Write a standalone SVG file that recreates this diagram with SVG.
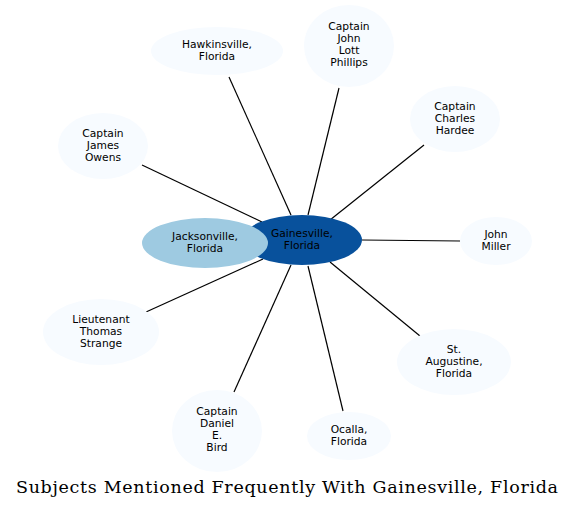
<svg xmlns="http://www.w3.org/2000/svg" width="576" height="508" viewBox="0 0 576 508">
<style>
.n{fill:#f7fbff;stroke:none}
text{font-family:"DejaVu Sans",sans-serif;font-size:10.7px;text-anchor:middle;fill:#000}
.e line{stroke:#000;stroke-width:1.2}
.t{font-family:"DejaVu Serif",serif;font-size:17.5px}
</style>
<rect width="576" height="508" fill="#fff"/>
<g class="e" id="edges">
<line x1="229" y1="77" x2="291" y2="215"/>
<line x1="339" y1="88" x2="308" y2="215"/>
<line x1="424" y1="145" x2="330" y2="220"/>
<line x1="142" y1="165" x2="262" y2="222"/>
<line x1="460" y1="241" x2="362" y2="240"/>
<line x1="146" y1="312" x2="263" y2="259"/>
<line x1="420" y1="336" x2="330" y2="262"/>
<line x1="234" y1="392" x2="291" y2="265"/>
<line x1="343" y1="411" x2="308" y2="266"/>
</g>
<g id="gainesville">
<ellipse cx="302" cy="240" rx="60" ry="25" fill="#08519c"/>
<text x="302" y="237">Gainesville,</text>
<text x="302" y="249">Florida</text>
</g>
<g id="jacksonville">
<ellipse cx="205" cy="243" rx="63" ry="25" fill="#9ecae1"/>
<text x="205" y="240">Jacksonville,</text>
<text x="205" y="252">Florida</text>
</g>
<g id="hawkinsville">
<ellipse class="n" cx="217" cy="51" rx="66" ry="24"/>
<text x="217" y="48">Hawkinsville,</text>
<text x="217" y="60">Florida</text>
</g>
<g id="phillips">
<ellipse class="n" cx="349" cy="46" rx="45" ry="41"/>
<text x="349" y="30">Captain</text>
<text x="349" y="42">John</text>
<text x="349" y="54">Lott</text>
<text x="349" y="66">Phillips</text>
</g>
<g id="hardee">
<ellipse class="n" cx="455" cy="119" rx="45" ry="33"/>
<text x="455" y="110">Captain</text>
<text x="455" y="122">Charles</text>
<text x="455" y="134">Hardee</text>
</g>
<g id="owens">
<ellipse class="n" cx="103" cy="146" rx="45" ry="33"/>
<text x="103" y="137">Captain</text>
<text x="103" y="149">James</text>
<text x="103" y="161">Owens</text>
</g>
<g id="miller">
<ellipse class="n" cx="496" cy="241" rx="36" ry="24"/>
<text x="496" y="238">John</text>
<text x="496" y="250">Miller</text>
</g>
<g id="strange">
<ellipse class="n" cx="101" cy="332" rx="58" ry="33"/>
<text x="101" y="323">Lieutenant</text>
<text x="101" y="335">Thomas</text>
<text x="101" y="347">Strange</text>
</g>
<g id="staugustine">
<ellipse class="n" cx="454" cy="362" rx="57" ry="33"/>
<text x="454" y="353">St.</text>
<text x="454" y="365">Augustine,</text>
<text x="454" y="377">Florida</text>
</g>
<g id="bird">
<ellipse class="n" cx="217" cy="431" rx="45" ry="41"/>
<text x="217" y="415">Captain</text>
<text x="217" y="427">Daniel</text>
<text x="217" y="439">E.</text>
<text x="217" y="451">Bird</text>
</g>
<g id="ocalla">
<ellipse class="n" cx="349" cy="436" rx="42" ry="24"/>
<text x="349" y="433">Ocalla,</text>
<text x="349" y="445">Florida</text>
</g>
<text class="t" x="287" y="493" textLength="542" lengthAdjust="spacing">Subjects Mentioned Frequently With Gainesville, Florida</text>
</svg>
